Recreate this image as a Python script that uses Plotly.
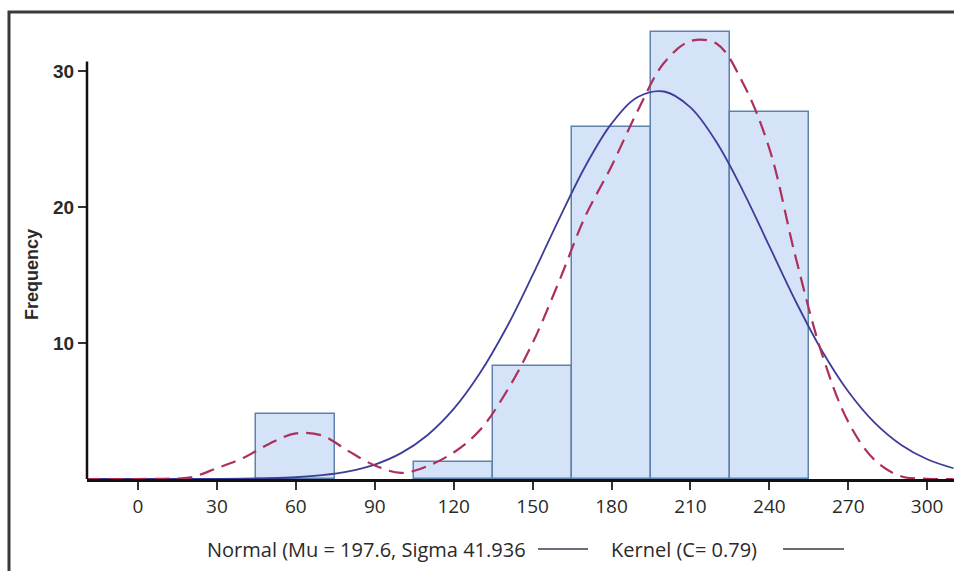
import plotly.graph_objects as go

# Histogram bins (centers, 30 wide) and frequencies
bin_centers = [60, 120, 150, 180, 210, 240]
frequencies = [4.76, 1.23, 8.3, 25.9, 32.9, 27.0]
bin_width = 30

# Normal curve (Mu = 197.6, Sigma 41.936)
normal_x = [-20, -10, 0, 10, 20, 30, 40, 50, 60, 70, 80, 90, 100, 110, 120, 130, 140, 150,
            160, 170, 180, 190, 200, 210, 220, 230, 240, 250, 260, 270, 280, 290, 300, 310]
normal_y = [0.0, 0.0001, 0.0004, 0.0013, 0.0036, 0.0097, 0.024, 0.058, 0.13, 0.28, 0.56, 1.06,
            1.90, 3.22, 5.15, 7.79, 11.10, 14.99, 19.09, 22.98, 26.13, 28.08, 28.49, 27.32,
            24.74, 21.17, 17.12, 13.07, 9.43, 6.43, 4.14, 2.52, 1.45, 0.79]

# Kernel curve (C = 0.79)
kernel_x = [-20, -10, 0, 10, 20, 30, 40, 50, 60, 70, 80, 90, 100, 110, 120, 130, 140, 150,
            160, 170, 180, 190, 200, 210, 220, 230, 240, 250, 260, 270, 280, 290, 300, 310]
kernel_y = [0.0, 0.0, 0.0, 0.02, 0.12, 0.8, 1.55, 2.6, 3.35, 3.2, 2.05, 1.0, 0.45, 0.95, 1.95,
            3.6, 6.4, 10.0, 14.5, 19.3, 23.0, 27.1, 30.6, 32.2, 32.0, 29.1, 24.3, 16.3, 9.2,
            4.2, 1.4, 0.2, 0.02, 0.0]

x_ticks = [0, 30, 60, 90, 120, 150, 180, 210, 240, 270, 300]
y_ticks = [10, 20, 30]
y_axis_top = 30.7

legend_normal = "Normal (Mu = 197.6, Sigma 41.936"
legend_kernel = "Kernel (C= 0.79)"

fig = go.Figure()
fig.add_trace(go.Bar(
    x=bin_centers, y=frequencies, width=bin_width,
    marker=dict(color="#d4e3f7", line=dict(color="#5f82ab", width=1.5)),
    hoverinfo="skip",
))
fig.add_trace(go.Scatter(
    x=normal_x, y=normal_y, mode="lines",
    line=dict(color="#3d3d99", width=1.8, shape="spline"),
))
fig.add_trace(go.Scatter(
    x=kernel_x, y=kernel_y, mode="lines",
    line=dict(color="#ac2f5c", width=2.2, shape="spline", dash="15px,8px"),
))

W, H = 954, 571
L, R, T, B = 87, 0, 22, 92
pw, ph = W - L - R, H - T - B

def px(xp):
    return (xp - L) / pw

def py(yp):
    return (H - B - yp) / ph

shapes = [
    # outer frame (left and top edges)
    dict(type="path", xref="paper", yref="paper",
         path=f"M {px(9)} {py(575)} L {px(9)} {py(12)} L {px(960)} {py(12)}",
         line=dict(color="#3a3a3a", width=3)),
    # y axis line (stops just above the top tick)
    dict(type="line", xref="paper", yref="y", x0=0, x1=0, y0=0, y1=y_axis_top,
         line=dict(color="#111111", width=2.5)),
    # legend line samples
    dict(type="line", xref="paper", yref="paper", x0=px(538), x1=px(588), y0=py(549), y1=py(549),
         line=dict(color="#3b3b55", width=1.5)),
    dict(type="line", xref="paper", yref="paper", x0=px(783), x1=px(844), y0=py(549), y1=py(549),
         line=dict(color="#3a3a3a", width=1.5)),
]

annotations = [
    dict(text="Frequency", xref="paper", yref="paper", x=px(32), y=py(275),
         textangle=-90, showarrow=False,
         font=dict(family="Liberation Sans", size=18, color="#2a2a2a", weight="bold"),
         xanchor="center", yanchor="middle"),
    dict(text=legend_normal, xref="paper", yref="paper", x=px(528), y=py(549),
         showarrow=False, xanchor="right", yanchor="middle",
         font=dict(family="Open Sans", size=20, color="#2a2a2a")),
    dict(text=legend_kernel, xref="paper", yref="paper", x=px(609), y=py(549),
         showarrow=False, xanchor="left", yanchor="middle",
         font=dict(family="Open Sans", size=20, color="#2a2a2a")),
]

fig.update_layout(
    width=W, height=H,
    margin=dict(l=L, r=R, t=T, b=B, pad=0),
    paper_bgcolor="white", plot_bgcolor="white",
    showlegend=False, bargap=0,
    shapes=shapes, annotations=annotations,
    xaxis=dict(range=[-19.4, 310.2], tickvals=x_ticks, showgrid=False, zeroline=False,
               showline=True, linecolor="#111111", linewidth=3,
               ticks="outside", ticklen=8, tickwidth=1.5, tickcolor="#333333",
               tickfont=dict(family="Open Sans", size=19, color="#2a2a2a")),
    yaxis=dict(range=[0, 33.6], tickvals=y_ticks, showgrid=False, zeroline=False,
               showline=False,
               ticks="outside", ticklen=8, tickwidth=1.5, tickcolor="#333333",
               tickfont=dict(family="Liberation Sans", size=19, color="#2a2a2a", weight="bold")),
)

fig.write_html("out.html")
